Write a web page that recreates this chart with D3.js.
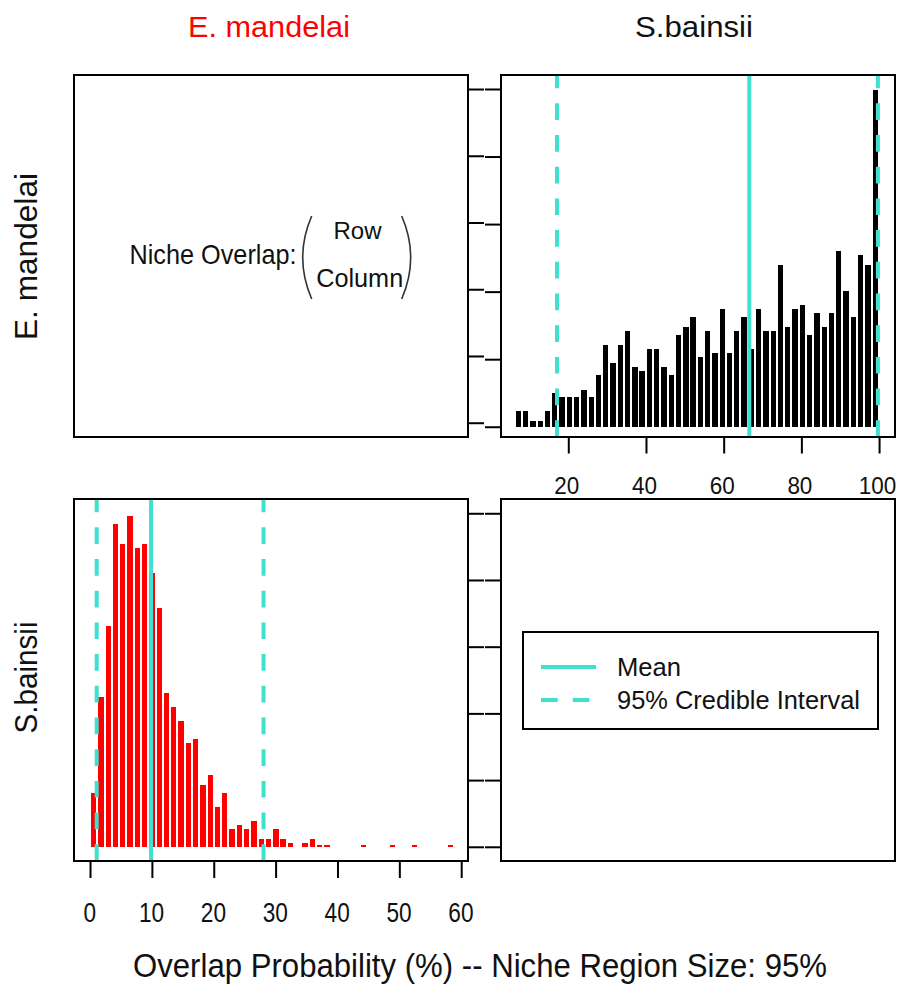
<!DOCTYPE html>
<html>
<head>
<meta charset="utf-8">
<script src="https://cdn.jsdelivr.net/npm/d3@7"></script>
<style>
  body { margin: 0; background: #fff; }
  text { font-family: "Liberation Sans", Arial, sans-serif; fill: #111; }
</style>
</head>
<body>
<div id="chart"></div>
<script>
// species names (column titles / row labels)
var species = ["E. mandelai", "S.bainsii"];
var titleColors = ["#ff0000", "#111111"];

// E. mandelai row, S.bainsii column: 50 bins between these limits
var topRange = [6.21, 99.94];
var topCounts = [2.3, 2.3, 0.8, 0.8, 2.3, 5.0, 4.4, 4.4, 4.4, 5.5,
  4.4, 7.6, 12.1, 9.4, 12.1, 14.2, 8.8, 8.2, 11.5, 11.5,
  8.8, 7.6, 13.6, 14.8, 16.2, 10.3, 14.2, 10.9, 17.4, 10.9,
  14.2, 16.2, 11.5, 17.4, 14.2, 14.2, 24.0, 14.8, 17.4, 18.0,
  13.6, 16.8, 14.8, 16.8, 26.0, 20.1, 16.2, 25.4, 24.0, 49.8];
var topMean = 66.6;
var topCI = [17.1, 99.7];

// S.bainsii row, E. mandelai column
var bottomRange = [0, 58.9];
var bottomCounts = [8.0, 22.4, 33.1, 48.4, 45.4, 49.6, 44.8, 45.4, 41.0, 35.8,
  23.0, 20.9, 18.8, 15.5, 16.1, 9.2, 10.7, 5.9, 8.0, 2.6,
  3.2, 2.6, 3.8, 1.1, 1.1, 2.6, 1.1, 0.5, 0, 0.5,
  1.1, 0.25, 0.25, 0, 0, 0, 0, 0.25, 0, 0,
  0, 0.25, 0, 0, 0.25, 0, 0, 0, 0, 0.25];
var bottomMean = 9.87;
var bottomCI = [1.08, 28.05];

var countTicks = [0, 10, 20, 30, 40, 50];
var topXTicks = [20, 40, 60, 80, 100];
var bottomXTicks = [0, 10, 20, 30, 40, 50, 60];

var legendLabels = ["Mean", "95% Credible Interval"];
var xLabel = "Overlap Probability (%) -- Niche Region Size: 95%";

var width = 900, height = 992;
var colX = [74, 501], rowY = [75, 499];
var pw = 394, ph = 362;
var turq = "#40e0d0";
var dash = "16.7,15";

var svg = d3.select("#chart")
  .append("svg")
  .attr("width", width)
  .attr("height", height);

function fit(sel, len) {
  sel.attr("textLength", len).attr("lengthAdjust", "spacingAndGlyphs");
}

function styleAxis(g) {
  g.select(".domain").remove();
  g.selectAll(".tick line").attr("stroke", "#000").attr("stroke-width", 2);
}

// histogram panel with mean + credible interval lines
function drawHist(px, py, counts, range, xDomain, yDomain, color, mean, ci) {
  var x = d3.scaleLinear().domain(xDomain).range([px, px + pw]);
  var y = d3.scaleLinear().domain(yDomain).range([py + ph, py]);
  var binW = (range[1] - range[0]) / counts.length;
  var barW = (x(binW) - x(0)) * 0.73;

  var bars = counts.map(function(c, i) {
    return { mid: range[0] + binW * (i + 0.5), n: c };
  }).filter(function(d) { return d.n > 0; });

  svg.append("g")
    .selectAll("rect")
    .data(bars)
    .enter()
    .append("rect")
    .attr("x", function(d) { return x(d.mid) - barW / 2; })
    .attr("y", function(d) { return y(d.n); })
    .attr("width", barW)
    .attr("height", function(d) { return y(0) - y(d.n); })
    .attr("fill", color)
    .attr("shape-rendering", "crispEdges");

  var lines = [{ v: mean, dashed: false }, { v: ci[0], dashed: true }, { v: ci[1], dashed: true }];
  svg.append("g")
    .selectAll("line")
    .data(lines)
    .enter()
    .append("line")
    .attr("x1", function(d) { return x(d.v); })
    .attr("x2", function(d) { return x(d.v); })
    .attr("y1", py + ph)
    .attr("y2", py)
    .attr("stroke", turq)
    .attr("stroke-width", 4)
    .attr("stroke-dasharray", function(d) { return d.dashed ? dash : null; });

  return { x: x, y: y };
}

var tr = drawHist(colX[1], rowY[0], topCounts, topRange, [2.68, 104.1], [-1.52, 52.07],
  "#000", topMean, topCI);
var bl = drawHist(colX[0], rowY[1], bottomCounts, bottomRange, [-2.59, 61.1], [-2.13, 52.14],
  "#ff0000", bottomMean, bottomCI);

// panel frames
[[0, 0], [1, 0], [0, 1], [1, 1]].forEach(function(p) {
  svg.append("rect")
    .attr("x", colX[p[0]])
    .attr("y", rowY[p[1]])
    .attr("width", pw)
    .attr("height", ph)
    .attr("fill", "none")
    .attr("stroke", "#000")
    .attr("stroke-width", 2);
});

// y ticks in the gap between columns
var yTopLeft = d3.scaleLinear().domain([-2.14, 52.1]).range([rowY[0] + ph, rowY[0]]);
svg.append("g")
  .attr("transform", "translate(" + (colX[0] + pw) + ",0)")
  .call(d3.axisRight(yTopLeft).tickValues(countTicks).tickSize(16).tickFormat(""))
  .call(styleAxis);
svg.append("g")
  .attr("transform", "translate(" + colX[1] + ",0)")
  .call(d3.axisLeft(tr.y).tickValues(countTicks).tickSize(16).tickFormat(""))
  .call(styleAxis);
svg.append("g")
  .attr("transform", "translate(" + (colX[0] + pw) + ",0)")
  .call(d3.axisRight(bl.y).tickValues(countTicks).tickSize(16).tickFormat(""))
  .call(styleAxis);
svg.append("g")
  .attr("transform", "translate(" + colX[1] + ",0)")
  .call(d3.axisLeft(bl.y).tickValues(countTicks).tickSize(16).tickFormat(""))
  .call(styleAxis);

// x axes
var gxTop = svg.append("g")
  .attr("transform", "translate(0," + (rowY[0] + ph) + ")")
  .call(d3.axisBottom(tr.x).tickValues(topXTicks).tickSize(16.5))
  .call(styleAxis);
gxTop.selectAll("text")
  .attr("y", 57).attr("dy", 0).attr("dx", -2)
  .style("font-size", "24px").attr("fill", "#111")
  .each(function(d) { fit(d3.select(this), String(d).length * 12.5); });

var gxBot = svg.append("g")
  .attr("transform", "translate(0," + (rowY[1] + ph) + ")")
  .call(d3.axisBottom(bl.x).tickValues(bottomXTicks).tickSize(17))
  .call(styleAxis);
gxBot.selectAll("text")
  .attr("y", 60.7).attr("dy", 0).attr("dx", -0.8)
  .style("font-size", "27px").attr("fill", "#111")
  .each(function(d) { fit(d3.select(this), String(d).length * 12.6); });

// column titles
var titleX = [269, 694], titleLen = [162, 118];
species.forEach(function(s, i) {
  svg.append("text")
    .attr("x", titleX[i])
    .attr("y", 36.5)
    .attr("text-anchor", "middle")
    .style("font-size", "30px")
    .style("fill", titleColors[i])
    .text(s)
    .call(fit, titleLen[i]);
});

// row labels
var rowCY = [256.5, 677.5], rowLen = [167, 112];
species.forEach(function(s, i) {
  svg.append("text")
    .attr("transform", "translate(37," + rowCY[i] + ")rotate(-90)")
    .attr("text-anchor", "middle")
    .style("font-size", "31px")
    .text(s)
    .call(fit, rowLen[i]);
});

// x label
svg.append("text")
  .attr("x", 480)
  .attr("y", 977)
  .attr("text-anchor", "middle")
  .style("font-size", "33px")
  .text(xLabel)
  .call(fit, 694);

// top-left: Niche Overlap (Row / Column)
svg.append("text")
  .attr("x", 129.5).attr("y", 264)
  .style("font-size", "28px")
  .text("Niche Overlap:")
  .call(fit, 167);
svg.append("text")
  .attr("x", 357.5).attr("y", 238.5)
  .attr("text-anchor", "middle")
  .style("font-size", "24px")
  .text("Row")
  .call(fit, 48);
svg.append("text")
  .attr("x", 359.7).attr("y", 286.7)
  .attr("text-anchor", "middle")
  .style("font-size", "25px")
  .text("Column")
  .call(fit, 87);
svg.append("path")
  .attr("d", "M311.7,216 Q293.7,257.5 311.7,299")
  .attr("fill", "none").attr("stroke", "#333").attr("stroke-width", 1.6);
svg.append("path")
  .attr("d", "M401.7,216 Q419.7,257.5 401.7,299")
  .attr("fill", "none").attr("stroke", "#333").attr("stroke-width", 1.6);

// legend in the empty bottom-right panel
var lg = svg.append("g");
lg.append("rect")
  .attr("x", 523).attr("y", 632)
  .attr("width", 355).attr("height", 97)
  .attr("fill", "#fff").attr("stroke", "#000").attr("stroke-width", 2);
var legLen = [64, 243];
legendLabels.forEach(function(t, i) {
  var ly = 667 + i * 33;
  lg.append("line")
    .attr("x1", 541).attr("x2", 596)
    .attr("y1", ly).attr("y2", ly)
    .attr("stroke", turq).attr("stroke-width", 4)
    .attr("stroke-dasharray", i === 1 ? dash : null);
  lg.append("text")
    .attr("x", 617).attr("y", ly + 9)
    .style("font-size", "26px")
    .text(t)
    .call(fit, legLen[i]);
});
</script>
</body>
</html>
